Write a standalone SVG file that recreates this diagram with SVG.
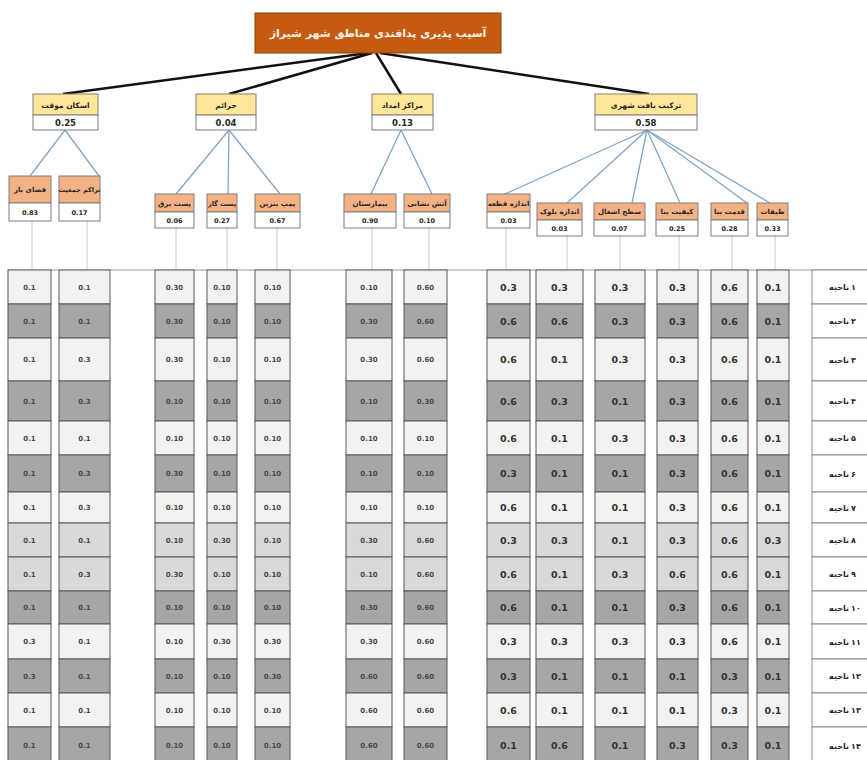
<svg xmlns="http://www.w3.org/2000/svg" width="867" height="760" viewBox="0 0 867 760">
<style>
.fa{font-family:"DejaVu Sans","Noto Sans",sans-serif;font-weight:bold;text-anchor:middle;fill:#262626}
.num{font-family:"DejaVu Sans",sans-serif;font-weight:bold;text-anchor:middle;fill:#262626}
.y{fill:#ffe699;stroke:#7f7f7f;stroke-width:1}
.o{fill:#f4b183;stroke:#7f7f7f;stroke-width:1}
.w{fill:#ffffff;stroke:#7f7f7f;stroke-width:1}
.blk{stroke:#111;stroke-width:2.5;fill:none}
.blu{stroke:#7ea6c8;stroke-width:1.3;fill:none}
.gry{stroke:#c8c8c8;stroke-width:1;fill:none}
.row rect{stroke:#595959;stroke-width:1}
.lt rect{fill:#f2f2f2}
.dk rect{fill:#a6a6a6}
.md rect{fill:#d9d9d9}
.lb rect{fill:#ffffff;stroke:#8c8c8c;stroke-width:1}
.s{font-family:"DejaVu Sans",sans-serif;font-size:7px;text-anchor:middle;fill:#4a4a4a;font-weight:bold}
.b{font-family:"DejaVu Sans",sans-serif;font-size:9.5px;text-anchor:middle;fill:#333;font-weight:bold}
.rw{font-family:"DejaVu Sans",sans-serif;font-size:8px;text-anchor:end;fill:#262626;font-weight:bold}
.rd{font-family:"DejaVu Sans",sans-serif;font-size:8px;text-anchor:start;fill:#262626;font-weight:bold}
</style>

<g id="connectors">
<line class="blk" x1="368" y1="53" x2="63" y2="94"/>
<line class="blk" x1="372" y1="53" x2="229" y2="94"/>
<line class="blk" x1="376" y1="53" x2="401" y2="94"/>
<line class="blk" x1="380" y1="53" x2="649" y2="94"/>
<line class="blu" x1="65" y1="130" x2="30" y2="176"/>
<line class="blu" x1="65" y1="130" x2="99" y2="176"/>
<line class="blu" x1="229" y1="130" x2="176" y2="194"/>
<line class="blu" x1="229" y1="130" x2="228" y2="194"/>
<line class="blu" x1="229" y1="130" x2="280" y2="194"/>
<line class="blu" x1="401" y1="130" x2="371" y2="194"/>
<line class="blu" x1="401" y1="130" x2="432" y2="194"/>
<line class="blu" x1="647" y1="130" x2="505" y2="194"/>
<line class="blu" x1="647" y1="130" x2="567" y2="203"/>
<line class="blu" x1="647" y1="130" x2="632" y2="203"/>
<line class="blu" x1="647" y1="130" x2="680" y2="203"/>
<line class="blu" x1="647" y1="130" x2="747" y2="203"/>
<line class="blu" x1="647" y1="130" x2="770" y2="203"/>
<line class="gry" x1="32" y1="221" x2="32" y2="270"/>
<line class="gry" x1="87" y1="221" x2="87" y2="270"/>
<line class="gry" x1="176" y1="228" x2="176" y2="270"/>
<line class="gry" x1="227" y1="228" x2="227" y2="270"/>
<line class="gry" x1="277" y1="228" x2="277" y2="270"/>
<line class="gry" x1="372" y1="228" x2="372" y2="270"/>
<line class="gry" x1="429" y1="228" x2="429" y2="270"/>
<line class="gry" x1="506" y1="228" x2="506" y2="270"/>
<line class="gry" x1="567" y1="236" x2="567" y2="270"/>
<line class="gry" x1="620" y1="236" x2="620" y2="270"/>
<line class="gry" x1="679" y1="236" x2="679" y2="270"/>
<line class="gry" x1="732" y1="236" x2="732" y2="270"/>
<line class="gry" x1="775" y1="236" x2="775" y2="270"/>
<line x1="8" y1="270" x2="867" y2="270" stroke="#9a9a9a" stroke-width="1"/>
</g>

<g id="root">
<rect x="255" y="13" width="246" height="40" fill="#c55a11" stroke="#8a3f0c" stroke-width="1"/>
<text class="fa" x="378" y="37" font-size="11" style="fill:#fff4ea">آسیب پذیری پدافندی مناطق شهر شیراز</text>
</g>

<g id="n-eskan">
<rect class="y" x="33" y="94" width="65" height="21"/><rect class="w" x="33" y="115" width="65" height="15"/>
<text class="fa" x="65.5" y="107.5" font-size="7.5">اسکان موقت</text>
<text class="num" x="65.5" y="126" font-size="8.5">0.25</text>
</g>
<g id="n-haraem">
<rect class="y" x="196" y="94" width="60" height="21"/><rect class="w" x="196" y="115" width="60" height="15"/>
<text class="fa" x="226" y="107.5" font-size="7.5">حرائم</text>
<text class="num" x="226" y="126" font-size="8.5">0.04</text>
</g>
<g id="n-emdad">
<rect class="y" x="372" y="94" width="61" height="21"/><rect class="w" x="372" y="115" width="61" height="15"/>
<text class="fa" x="402.5" y="107.5" font-size="7.5">مراکز امداد</text>
<text class="num" x="402.5" y="126" font-size="8.5">0.13</text>
</g>
<g id="n-baft">
<rect class="y" x="595" y="94" width="102" height="21"/><rect class="w" x="595" y="115" width="102" height="15"/>
<text class="fa" x="646" y="107.5" font-size="7.5">ترکیب بافت شهری</text>
<text class="num" x="646" y="126" font-size="8.5">0.58</text>
</g>

<g id="n-faza">
<rect class="o" x="9" y="176" width="42" height="27"/><rect class="w" x="9" y="203" width="42" height="18"/>
<text class="fa" x="30" y="192" font-size="7">فضای باز</text>
<text class="num" x="30" y="215" font-size="6.5">0.83</text>
</g>
<g id="n-tarakom">
<rect class="o" x="59" y="176" width="41" height="27"/><rect class="w" x="59" y="203" width="41" height="18"/>
<text class="fa" x="79.5" y="192" font-size="6.5">تراکم جمعیت</text>
<text class="num" x="79.5" y="215" font-size="6.5">0.17</text>
</g>
<g id="n-barq">
<rect class="o" x="155" y="194" width="39" height="18"/><rect class="w" x="155" y="212" width="39" height="16"/>
<text class="fa" x="174.5" y="205.5" font-size="7">پست برق</text>
<text class="num" x="174.5" y="223" font-size="6.5">0.06</text>
</g>
<g id="n-gaz">
<rect class="o" x="207" y="194" width="30" height="18"/><rect class="w" x="207" y="212" width="30" height="16"/>
<text class="fa" x="222" y="205.5" font-size="6.5">پست گاز</text>
<text class="num" x="222" y="223" font-size="6.5">0.27</text>
</g>
<g id="n-benzin">
<rect class="o" x="255" y="194" width="45" height="18"/><rect class="w" x="255" y="212" width="45" height="16"/>
<text class="fa" x="277.5" y="205.5" font-size="7">پمپ بنزین</text>
<text class="num" x="277.5" y="223" font-size="6.5">0.67</text>
</g>
<g id="n-bimarestan">
<rect class="o" x="344" y="194" width="52" height="18"/><rect class="w" x="344" y="212" width="52" height="16"/>
<text class="fa" x="370" y="205.5" font-size="7">بیمارستان</text>
<text class="num" x="370" y="223" font-size="6.5">0.90</text>
</g>
<g id="n-atash">
<rect class="o" x="404" y="194" width="46" height="18"/><rect class="w" x="404" y="212" width="46" height="16"/>
<text class="fa" x="427" y="205.5" font-size="7">آتش نشانی</text>
<text class="num" x="427" y="223" font-size="6.5">0.10</text>
</g>
<g id="n-qete">
<rect class="o" x="487" y="194" width="43" height="18"/><rect class="w" x="487" y="212" width="43" height="16"/>
<text class="fa" x="508.5" y="205.5" font-size="7">اندازه قطعه</text>
<text class="num" x="508.5" y="223" font-size="6.5">0.03</text>
</g>
<g id="n-bolok">
<rect class="o" x="537" y="203" width="45" height="17"/><rect class="w" x="537" y="220" width="45" height="16"/>
<text class="fa" x="559.5" y="214" font-size="7">اندازه بلوک</text>
<text class="num" x="559.5" y="231" font-size="6.5">0.03</text>
</g>
<g id="n-sath">
<rect class="o" x="594" y="203" width="51" height="17"/><rect class="w" x="594" y="220" width="51" height="16"/>
<text class="fa" x="619.5" y="214" font-size="7">سطح اشغال</text>
<text class="num" x="619.5" y="231" font-size="6.5">0.07</text>
</g>
<g id="n-keyfiat">
<rect class="o" x="656" y="203" width="42" height="17"/><rect class="w" x="656" y="220" width="42" height="16"/>
<text class="fa" x="677" y="214" font-size="7">کیفیت بنا</text>
<text class="num" x="677" y="231" font-size="6.5">0.25</text>
</g>
<g id="n-qedmat">
<rect class="o" x="711" y="203" width="37" height="17"/><rect class="w" x="711" y="220" width="37" height="16"/>
<text class="fa" x="729.5" y="214" font-size="7">قدمت بنا</text>
<text class="num" x="729.5" y="231" font-size="6.5">0.28</text>
</g>
<g id="n-tabaqat">
<rect class="o" x="757" y="203" width="31" height="17"/><rect class="w" x="757" y="220" width="31" height="16"/>
<text class="fa" x="772.5" y="214" font-size="7">طبقات</text>
<text class="num" x="772.5" y="231" font-size="6.5">0.33</text>
</g>

<g id="table">
<g class="row lt"><rect x="8" y="270" width="43" height="34"/><rect x="59" y="270" width="51" height="34"/><rect x="155" y="270" width="39" height="34"/><rect x="207" y="270" width="30" height="34"/><rect x="255" y="270" width="35" height="34"/><rect x="346" y="270" width="46" height="34"/><rect x="404" y="270" width="43" height="34"/><rect x="487" y="270" width="43" height="34"/><rect x="536" y="270" width="47" height="34"/><rect x="595" y="270" width="50" height="34"/><rect x="657" y="270" width="41" height="34"/><rect x="711" y="270" width="37" height="34"/><rect x="757" y="270" width="32" height="34"/></g>
<g class="row dk"><rect x="8" y="304" width="43" height="34"/><rect x="59" y="304" width="51" height="34"/><rect x="155" y="304" width="39" height="34"/><rect x="207" y="304" width="30" height="34"/><rect x="255" y="304" width="35" height="34"/><rect x="346" y="304" width="46" height="34"/><rect x="404" y="304" width="43" height="34"/><rect x="487" y="304" width="43" height="34"/><rect x="536" y="304" width="47" height="34"/><rect x="595" y="304" width="50" height="34"/><rect x="657" y="304" width="41" height="34"/><rect x="711" y="304" width="37" height="34"/><rect x="757" y="304" width="32" height="34"/></g>
<g class="row lt"><rect x="8" y="338" width="43" height="43"/><rect x="59" y="338" width="51" height="43"/><rect x="155" y="338" width="39" height="43"/><rect x="207" y="338" width="30" height="43"/><rect x="255" y="338" width="35" height="43"/><rect x="346" y="338" width="46" height="43"/><rect x="404" y="338" width="43" height="43"/><rect x="487" y="338" width="43" height="43"/><rect x="536" y="338" width="47" height="43"/><rect x="595" y="338" width="50" height="43"/><rect x="657" y="338" width="41" height="43"/><rect x="711" y="338" width="37" height="43"/><rect x="757" y="338" width="32" height="43"/></g>
<g class="row dk"><rect x="8" y="381" width="43" height="40"/><rect x="59" y="381" width="51" height="40"/><rect x="155" y="381" width="39" height="40"/><rect x="207" y="381" width="30" height="40"/><rect x="255" y="381" width="35" height="40"/><rect x="346" y="381" width="46" height="40"/><rect x="404" y="381" width="43" height="40"/><rect x="487" y="381" width="43" height="40"/><rect x="536" y="381" width="47" height="40"/><rect x="595" y="381" width="50" height="40"/><rect x="657" y="381" width="41" height="40"/><rect x="711" y="381" width="37" height="40"/><rect x="757" y="381" width="32" height="40"/></g>
<g class="row lt"><rect x="8" y="421" width="43" height="34"/><rect x="59" y="421" width="51" height="34"/><rect x="155" y="421" width="39" height="34"/><rect x="207" y="421" width="30" height="34"/><rect x="255" y="421" width="35" height="34"/><rect x="346" y="421" width="46" height="34"/><rect x="404" y="421" width="43" height="34"/><rect x="487" y="421" width="43" height="34"/><rect x="536" y="421" width="47" height="34"/><rect x="595" y="421" width="50" height="34"/><rect x="657" y="421" width="41" height="34"/><rect x="711" y="421" width="37" height="34"/><rect x="757" y="421" width="32" height="34"/></g>
<g class="row dk"><rect x="8" y="455" width="43" height="37"/><rect x="59" y="455" width="51" height="37"/><rect x="155" y="455" width="39" height="37"/><rect x="207" y="455" width="30" height="37"/><rect x="255" y="455" width="35" height="37"/><rect x="346" y="455" width="46" height="37"/><rect x="404" y="455" width="43" height="37"/><rect x="487" y="455" width="43" height="37"/><rect x="536" y="455" width="47" height="37"/><rect x="595" y="455" width="50" height="37"/><rect x="657" y="455" width="41" height="37"/><rect x="711" y="455" width="37" height="37"/><rect x="757" y="455" width="32" height="37"/></g>
<g class="row lt"><rect x="8" y="492" width="43" height="31"/><rect x="59" y="492" width="51" height="31"/><rect x="155" y="492" width="39" height="31"/><rect x="207" y="492" width="30" height="31"/><rect x="255" y="492" width="35" height="31"/><rect x="346" y="492" width="46" height="31"/><rect x="404" y="492" width="43" height="31"/><rect x="487" y="492" width="43" height="31"/><rect x="536" y="492" width="47" height="31"/><rect x="595" y="492" width="50" height="31"/><rect x="657" y="492" width="41" height="31"/><rect x="711" y="492" width="37" height="31"/><rect x="757" y="492" width="32" height="31"/></g>
<g class="row md"><rect x="8" y="523" width="43" height="34"/><rect x="59" y="523" width="51" height="34"/><rect x="155" y="523" width="39" height="34"/><rect x="207" y="523" width="30" height="34"/><rect x="255" y="523" width="35" height="34"/><rect x="346" y="523" width="46" height="34"/><rect x="404" y="523" width="43" height="34"/><rect x="487" y="523" width="43" height="34"/><rect x="536" y="523" width="47" height="34"/><rect x="595" y="523" width="50" height="34"/><rect x="657" y="523" width="41" height="34"/><rect x="711" y="523" width="37" height="34"/><rect x="757" y="523" width="32" height="34"/></g>
<g class="row md"><rect x="8" y="557" width="43" height="34"/><rect x="59" y="557" width="51" height="34"/><rect x="155" y="557" width="39" height="34"/><rect x="207" y="557" width="30" height="34"/><rect x="255" y="557" width="35" height="34"/><rect x="346" y="557" width="46" height="34"/><rect x="404" y="557" width="43" height="34"/><rect x="487" y="557" width="43" height="34"/><rect x="536" y="557" width="47" height="34"/><rect x="595" y="557" width="50" height="34"/><rect x="657" y="557" width="41" height="34"/><rect x="711" y="557" width="37" height="34"/><rect x="757" y="557" width="32" height="34"/></g>
<g class="row dk"><rect x="8" y="591" width="43" height="33"/><rect x="59" y="591" width="51" height="33"/><rect x="155" y="591" width="39" height="33"/><rect x="207" y="591" width="30" height="33"/><rect x="255" y="591" width="35" height="33"/><rect x="346" y="591" width="46" height="33"/><rect x="404" y="591" width="43" height="33"/><rect x="487" y="591" width="43" height="33"/><rect x="536" y="591" width="47" height="33"/><rect x="595" y="591" width="50" height="33"/><rect x="657" y="591" width="41" height="33"/><rect x="711" y="591" width="37" height="33"/><rect x="757" y="591" width="32" height="33"/></g>
<g class="row lt"><rect x="8" y="624" width="43" height="35"/><rect x="59" y="624" width="51" height="35"/><rect x="155" y="624" width="39" height="35"/><rect x="207" y="624" width="30" height="35"/><rect x="255" y="624" width="35" height="35"/><rect x="346" y="624" width="46" height="35"/><rect x="404" y="624" width="43" height="35"/><rect x="487" y="624" width="43" height="35"/><rect x="536" y="624" width="47" height="35"/><rect x="595" y="624" width="50" height="35"/><rect x="657" y="624" width="41" height="35"/><rect x="711" y="624" width="37" height="35"/><rect x="757" y="624" width="32" height="35"/></g>
<g class="row dk"><rect x="8" y="659" width="43" height="34"/><rect x="59" y="659" width="51" height="34"/><rect x="155" y="659" width="39" height="34"/><rect x="207" y="659" width="30" height="34"/><rect x="255" y="659" width="35" height="34"/><rect x="346" y="659" width="46" height="34"/><rect x="404" y="659" width="43" height="34"/><rect x="487" y="659" width="43" height="34"/><rect x="536" y="659" width="47" height="34"/><rect x="595" y="659" width="50" height="34"/><rect x="657" y="659" width="41" height="34"/><rect x="711" y="659" width="37" height="34"/><rect x="757" y="659" width="32" height="34"/></g>
<g class="row lt"><rect x="8" y="693" width="43" height="34"/><rect x="59" y="693" width="51" height="34"/><rect x="155" y="693" width="39" height="34"/><rect x="207" y="693" width="30" height="34"/><rect x="255" y="693" width="35" height="34"/><rect x="346" y="693" width="46" height="34"/><rect x="404" y="693" width="43" height="34"/><rect x="487" y="693" width="43" height="34"/><rect x="536" y="693" width="47" height="34"/><rect x="595" y="693" width="50" height="34"/><rect x="657" y="693" width="41" height="34"/><rect x="711" y="693" width="37" height="34"/><rect x="757" y="693" width="32" height="34"/></g>
<g class="row dk"><rect x="8" y="727" width="43" height="40"/><rect x="59" y="727" width="51" height="40"/><rect x="155" y="727" width="39" height="40"/><rect x="207" y="727" width="30" height="40"/><rect x="255" y="727" width="35" height="40"/><rect x="346" y="727" width="46" height="40"/><rect x="404" y="727" width="43" height="40"/><rect x="487" y="727" width="43" height="40"/><rect x="536" y="727" width="47" height="40"/><rect x="595" y="727" width="50" height="40"/><rect x="657" y="727" width="41" height="40"/><rect x="711" y="727" width="37" height="40"/><rect x="757" y="727" width="32" height="40"/></g>

<g class="lb">
<rect x="812" y="270" width="60" height="34"/><rect x="812" y="304" width="60" height="34"/><rect x="812" y="338" width="60" height="43"/><rect x="812" y="381" width="60" height="40"/><rect x="812" y="421" width="60" height="34"/><rect x="812" y="455" width="60" height="37"/><rect x="812" y="492" width="60" height="31"/><rect x="812" y="523" width="60" height="34"/><rect x="812" y="557" width="60" height="34"/><rect x="812" y="591" width="60" height="33"/><rect x="812" y="624" width="60" height="35"/><rect x="812" y="659" width="60" height="34"/><rect x="812" y="693" width="60" height="34"/><rect x="812" y="727" width="60" height="40"/>
</g>

<text class="s" y="290"><tspan x="29.5">0.1</tspan><tspan x="84.5">0.1</tspan><tspan x="174.5">0.30</tspan><tspan x="222">0.10</tspan><tspan x="272.5">0.10</tspan><tspan x="369">0.10</tspan><tspan x="425.5">0.60</tspan></text>
<text class="s" y="324"><tspan x="29.5">0.1</tspan><tspan x="84.5">0.1</tspan><tspan x="174.5">0.30</tspan><tspan x="222">0.10</tspan><tspan x="272.5">0.10</tspan><tspan x="369">0.30</tspan><tspan x="425.5">0.60</tspan></text>
<text class="s" y="362"><tspan x="29.5">0.1</tspan><tspan x="84.5">0.3</tspan><tspan x="174.5">0.30</tspan><tspan x="222">0.10</tspan><tspan x="272.5">0.10</tspan><tspan x="369">0.30</tspan><tspan x="425.5">0.60</tspan></text>
<text class="s" y="403.5"><tspan x="29.5">0.1</tspan><tspan x="84.5">0.3</tspan><tspan x="174.5">0.10</tspan><tspan x="222">0.10</tspan><tspan x="272.5">0.10</tspan><tspan x="369">0.10</tspan><tspan x="425.5">0.30</tspan></text>
<text class="s" y="440.5"><tspan x="29.5">0.1</tspan><tspan x="84.5">0.1</tspan><tspan x="174.5">0.10</tspan><tspan x="222">0.10</tspan><tspan x="272.5">0.10</tspan><tspan x="369">0.10</tspan><tspan x="425.5">0.10</tspan></text>
<text class="s" y="476"><tspan x="29.5">0.1</tspan><tspan x="84.5">0.3</tspan><tspan x="174.5">0.30</tspan><tspan x="222">0.10</tspan><tspan x="272.5">0.10</tspan><tspan x="369">0.10</tspan><tspan x="425.5">0.10</tspan></text>
<text class="s" y="510"><tspan x="29.5">0.1</tspan><tspan x="84.5">0.3</tspan><tspan x="174.5">0.10</tspan><tspan x="222">0.10</tspan><tspan x="272.5">0.10</tspan><tspan x="369">0.10</tspan><tspan x="425.5">0.10</tspan></text>
<text class="s" y="542.5"><tspan x="29.5">0.1</tspan><tspan x="84.5">0.1</tspan><tspan x="174.5">0.10</tspan><tspan x="222">0.30</tspan><tspan x="272.5">0.10</tspan><tspan x="369">0.30</tspan><tspan x="425.5">0.60</tspan></text>
<text class="s" y="576.5"><tspan x="29.5">0.1</tspan><tspan x="84.5">0.3</tspan><tspan x="174.5">0.30</tspan><tspan x="222">0.10</tspan><tspan x="272.5">0.10</tspan><tspan x="369">0.10</tspan><tspan x="425.5">0.60</tspan></text>
<text class="s" y="610"><tspan x="29.5">0.1</tspan><tspan x="84.5">0.1</tspan><tspan x="174.5">0.10</tspan><tspan x="222">0.10</tspan><tspan x="272.5">0.10</tspan><tspan x="369">0.30</tspan><tspan x="425.5">0.60</tspan></text>
<text class="s" y="644"><tspan x="29.5">0.3</tspan><tspan x="84.5">0.1</tspan><tspan x="174.5">0.10</tspan><tspan x="222">0.30</tspan><tspan x="272.5">0.30</tspan><tspan x="369">0.30</tspan><tspan x="425.5">0.60</tspan></text>
<text class="s" y="678.5"><tspan x="29.5">0.3</tspan><tspan x="84.5">0.1</tspan><tspan x="174.5">0.10</tspan><tspan x="222">0.10</tspan><tspan x="272.5">0.30</tspan><tspan x="369">0.60</tspan><tspan x="425.5">0.60</tspan></text>
<text class="s" y="712.5"><tspan x="29.5">0.1</tspan><tspan x="84.5">0.1</tspan><tspan x="174.5">0.10</tspan><tspan x="222">0.10</tspan><tspan x="272.5">0.10</tspan><tspan x="369">0.60</tspan><tspan x="425.5">0.60</tspan></text>
<text class="s" y="748"><tspan x="29.5">0.1</tspan><tspan x="84.5">0.1</tspan><tspan x="174.5">0.10</tspan><tspan x="222">0.10</tspan><tspan x="272.5">0.10</tspan><tspan x="369">0.60</tspan><tspan x="425.5">0.60</tspan></text>

<text class="b" y="290.5"><tspan x="508.5">0.3</tspan><tspan x="559.5">0.3</tspan><tspan x="620">0.3</tspan><tspan x="677.5">0.3</tspan><tspan x="729.5">0.6</tspan><tspan x="773">0.1</tspan></text>
<text class="b" y="324.5"><tspan x="508.5">0.6</tspan><tspan x="559.5">0.6</tspan><tspan x="620">0.3</tspan><tspan x="677.5">0.3</tspan><tspan x="729.5">0.6</tspan><tspan x="773">0.1</tspan></text>
<text class="b" y="363"><tspan x="508.5">0.6</tspan><tspan x="559.5">0.1</tspan><tspan x="620">0.3</tspan><tspan x="677.5">0.3</tspan><tspan x="729.5">0.6</tspan><tspan x="773">0.1</tspan></text>
<text class="b" y="404.5"><tspan x="508.5">0.6</tspan><tspan x="559.5">0.3</tspan><tspan x="620">0.1</tspan><tspan x="677.5">0.3</tspan><tspan x="729.5">0.6</tspan><tspan x="773">0.1</tspan></text>
<text class="b" y="441.5"><tspan x="508.5">0.6</tspan><tspan x="559.5">0.1</tspan><tspan x="620">0.3</tspan><tspan x="677.5">0.3</tspan><tspan x="729.5">0.6</tspan><tspan x="773">0.1</tspan></text>
<text class="b" y="477"><tspan x="508.5">0.3</tspan><tspan x="559.5">0.1</tspan><tspan x="620">0.1</tspan><tspan x="677.5">0.3</tspan><tspan x="729.5">0.6</tspan><tspan x="773">0.1</tspan></text>
<text class="b" y="511"><tspan x="508.5">0.6</tspan><tspan x="559.5">0.1</tspan><tspan x="620">0.1</tspan><tspan x="677.5">0.3</tspan><tspan x="729.5">0.6</tspan><tspan x="773">0.1</tspan></text>
<text class="b" y="543.5"><tspan x="508.5">0.3</tspan><tspan x="559.5">0.3</tspan><tspan x="620">0.1</tspan><tspan x="677.5">0.3</tspan><tspan x="729.5">0.6</tspan><tspan x="773">0.3</tspan></text>
<text class="b" y="577.5"><tspan x="508.5">0.6</tspan><tspan x="559.5">0.1</tspan><tspan x="620">0.3</tspan><tspan x="677.5">0.6</tspan><tspan x="729.5">0.6</tspan><tspan x="773">0.1</tspan></text>
<text class="b" y="611"><tspan x="508.5">0.6</tspan><tspan x="559.5">0.1</tspan><tspan x="620">0.1</tspan><tspan x="677.5">0.3</tspan><tspan x="729.5">0.6</tspan><tspan x="773">0.1</tspan></text>
<text class="b" y="645"><tspan x="508.5">0.3</tspan><tspan x="559.5">0.3</tspan><tspan x="620">0.3</tspan><tspan x="677.5">0.3</tspan><tspan x="729.5">0.6</tspan><tspan x="773">0.1</tspan></text>
<text class="b" y="679.5"><tspan x="508.5">0.3</tspan><tspan x="559.5">0.1</tspan><tspan x="620">0.1</tspan><tspan x="677.5">0.1</tspan><tspan x="729.5">0.3</tspan><tspan x="773">0.1</tspan></text>
<text class="b" y="713.5"><tspan x="508.5">0.6</tspan><tspan x="559.5">0.1</tspan><tspan x="620">0.1</tspan><tspan x="677.5">0.1</tspan><tspan x="729.5">0.3</tspan><tspan x="773">0.1</tspan></text>
<text class="b" y="749"><tspan x="508.5">0.1</tspan><tspan x="559.5">0.6</tspan><tspan x="620">0.1</tspan><tspan x="677.5">0.3</tspan><tspan x="729.5">0.3</tspan><tspan x="773">0.1</tspan></text>

<g id="row-labels">
<text class="rw" x="849" y="290">ناحیه</text><text class="rd" x="851" y="290">۱</text>
<text class="rw" x="849" y="324">ناحیه</text><text class="rd" x="851" y="324">۲</text>
<text class="rw" x="849" y="362.5">ناحیه</text><text class="rd" x="851" y="362.5">۳</text>
<text class="rw" x="849" y="404">ناحیه</text><text class="rd" x="851" y="404">۴</text>
<text class="rw" x="849" y="441">ناحیه</text><text class="rd" x="851" y="441">۵</text>
<text class="rw" x="849" y="476.5">ناحیه</text><text class="rd" x="851" y="476.5">۶</text>
<text class="rw" x="849" y="510.5">ناحیه</text><text class="rd" x="851" y="510.5">۷</text>
<text class="rw" x="849" y="543">ناحیه</text><text class="rd" x="851" y="543">۸</text>
<text class="rw" x="849" y="577">ناحیه</text><text class="rd" x="851" y="577">۹</text>
<text class="rw" x="849" y="610.5">ناحیه</text><text class="rd" x="851" y="610.5">۱۰</text>
<text class="rw" x="849" y="644.5">ناحیه</text><text class="rd" x="851" y="644.5">۱۱</text>
<text class="rw" x="849" y="679">ناحیه</text><text class="rd" x="851" y="679">۱۲</text>
<text class="rw" x="849" y="713">ناحیه</text><text class="rd" x="851" y="713">۱۳</text>
<text class="rw" x="849" y="748.5">ناحیه</text><text class="rd" x="851" y="748.5">۱۴</text>
</g>
</g>
</svg>
